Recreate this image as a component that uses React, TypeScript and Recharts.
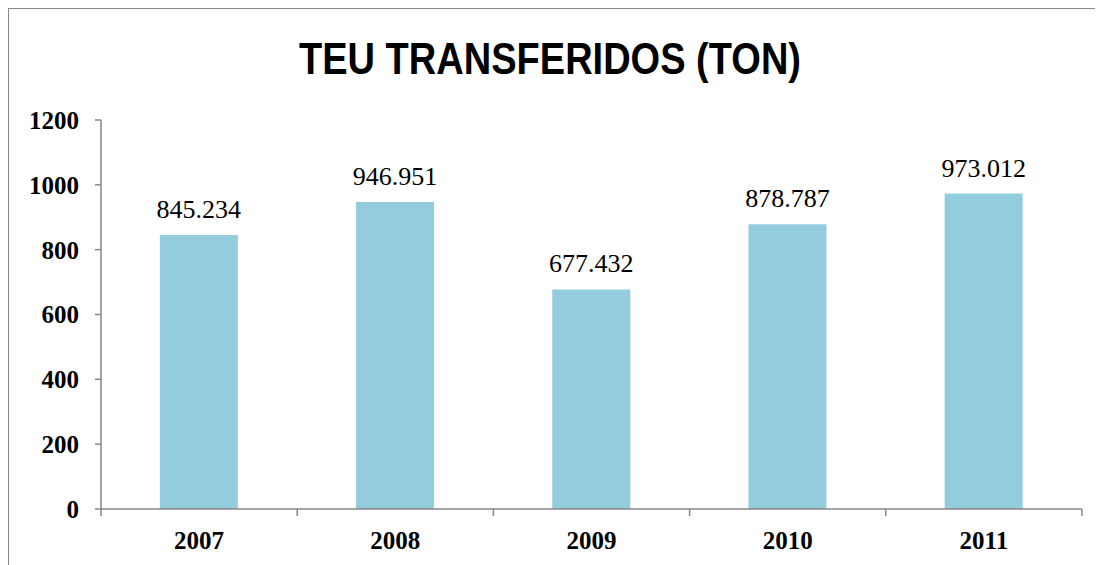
import React from 'react';
import { BarChart, Bar, XAxis, YAxis, LabelList } from 'recharts';

const years = ['2007', '2008', '2009', '2010', '2011'];
const teuValues = [845.234, 946.951, 677.432, 878.787, 973.012];
const yTicks = [0, 200, 400, 600, 800, 1000, 1200];

const chartData = years.map((year, i) => ({ year, teu: teuValues[i] }));

const AXIS_GRAY = '#868686';
const SERIF = '"Liberation Serif", "Times New Roman", serif';
const X_TICK_SIZE = 7;
const X_TICK_MARGIN = 15;

// category axis tick: Excel puts the tick marks between categories
const YearTick = (props: any) => {
  const { x, y, payload, index, visibleTicksCount } = props;
  const half = payload && payload.offset ? payload.offset : 0;
  const axisY = y - X_TICK_SIZE - X_TICK_MARGIN;
  const isLast = index === visibleTicksCount - 1;
  return (
    <g>
      <line x1={x - half} x2={x - half} y1={axisY} y2={axisY + X_TICK_SIZE} stroke={AXIS_GRAY} strokeWidth={1.5} />
      {isLast && (
        <line x1={x + half} x2={x + half} y1={axisY} y2={axisY + X_TICK_SIZE} stroke={AXIS_GRAY} strokeWidth={1.5} />
      )}
      <text
        x={x}
        y={y}
        dy="0.71em"
        textAnchor="middle"
        fill="#000"
        fontFamily={SERIF}
        fontWeight="bold"
        fontSize={25}
      >
        {payload.value}
      </text>
    </g>
  );
};

const App: React.FC = () => {
  return (
    <div
      style={{
        position: 'relative',
        width: 1100,
        height: 560,
        borderTop: `1.5px solid ${AXIS_GRAY}`,
        borderLeft: `1.5px solid ${AXIS_GRAY}`,
        boxSizing: 'border-box',
        background: '#fff',
        fontFamily: SERIF,
      }}
    >
      <style>{'body{overflow:hidden}'}</style>
      <div
        style={{
          position: 'absolute',
          left: 0,
          top: 26.5,
          width: 1082,
          textAlign: 'center',
          fontFamily: '"Liberation Sans", Arial, sans-serif',
          fontWeight: 'bold',
          fontSize: 45,
          lineHeight: '45px',
          transform: 'scaleX(0.845)',
          color: '#000',
        }}
      >
        TEU TRANSFERIDOS (TON)
      </div>
      <BarChart
        width={1090}
        height={550}
        data={chartData}
        margin={{ top: 111, right: 17, left: 0, bottom: 10 }}
        barCategoryGap="30%"
      >
        <XAxis
          dataKey="year"
          height={40}
          axisLine={{ stroke: AXIS_GRAY, strokeWidth: 1.5 }}
          tickLine={false}
          tickSize={X_TICK_SIZE}
          tickMargin={X_TICK_MARGIN}
          tick={<YearTick />}
        />
        <YAxis
          width={92}
          domain={[0, 1200]}
          ticks={yTicks}
          interval={0}
          axisLine={{ stroke: AXIS_GRAY, strokeWidth: 1.5 }}
          tickLine={{ stroke: AXIS_GRAY, strokeWidth: 1.5 }}
          tickSize={6}
          tickMargin={16}
          tick={{ fill: '#000', fontFamily: SERIF, fontWeight: 'bold', fontSize: 25 }}
        />
        <Bar dataKey="teu" fill="#93CDDD" isAnimationActive={false}>
          <LabelList
            dataKey="teu"
            position="top"
            offset={17}
            formatter={(v: any) => Number(v).toFixed(3)}
            fill="#000"
            fontFamily={SERIF}
            fontSize={26}
          />
        </Bar>
      </BarChart>
    </div>
  );
};

export default App;
